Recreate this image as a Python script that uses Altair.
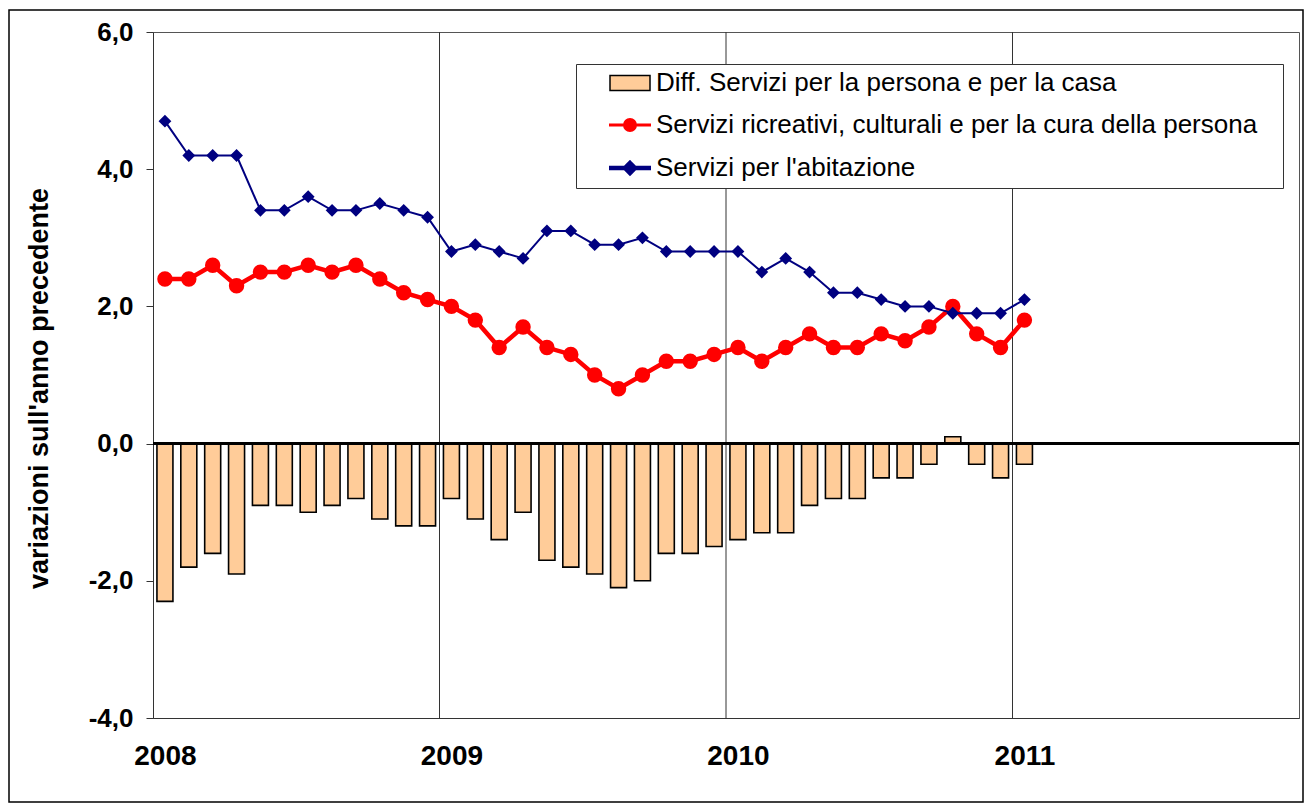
import altair as alt
import numpy as np
import pandas as pd

# Months: Jan 2008 .. Jan 2011 (37 monthly observations)
n_months = 37
year_labels = [2008, 2009, 2010, 2011]
grid_years = [2009, 2010, 2011]

diff_vals = [-2.3, -1.8, -1.6, -1.9, -0.9, -0.9, -1.0, -0.9, -0.8, -1.1, -1.2, -1.2,
             -0.8, -1.1, -1.4, -1.0, -1.7, -1.8, -1.9, -2.1, -2.0, -1.6, -1.6, -1.5,
             -1.4, -1.3, -1.3, -0.9, -0.8, -0.8, -0.5, -0.5, -0.3, 0.1, -0.3, -0.5,
             -0.3]
ricreativi = [2.4, 2.4, 2.6, 2.3, 2.5, 2.5, 2.6, 2.5, 2.6, 2.4, 2.2, 2.1,
              2.0, 1.8, 1.4, 1.7, 1.4, 1.3, 1.0, 0.8, 1.0, 1.2, 1.2, 1.3,
              1.4, 1.2, 1.4, 1.6, 1.4, 1.4, 1.6, 1.5, 1.7, 2.0, 1.6, 1.4,
              1.8]
abitazione = [4.7, 4.2, 4.2, 4.2, 3.4, 3.4, 3.6, 3.4, 3.4, 3.5, 3.4, 3.3,
              2.8, 2.9, 2.8, 2.7, 3.1, 3.1, 2.9, 2.9, 3.0, 2.8, 2.8, 2.8,
              2.8, 2.5, 2.7, 2.5, 2.2, 2.2, 2.1, 2.0, 2.0, 1.9, 1.9, 1.9,
              2.1]

series_names = [
    "Diff. Servizi per la persona e per la casa",
    "Servizi ricreativi, culturali e per la cura della persona",
    "Servizi per l'abitazione",
]

FONT = "Liberation Sans"
RED = "#FF0000"
NAVY = "#000080"
BAR_FILL = "#FFCC99"

df = pd.DataFrame({
    "t": np.arange(n_months) + 0.5,   # month slot centre
    "diff": diff_vals,
    "ric": ricreativi,
    "abit": abitazione,
})
grid_df = pd.DataFrame({"g": [(y - 2008) * 12 for y in grid_years]})
legend_df = pd.DataFrame({"series": series_names})

x_scale = alt.Scale(domain=[0, 48], nice=False, zero=False, padding=0)
y_scale = alt.Scale(domain=[-4, 6], nice=False, zero=False, padding=0)

x_axis = alt.Axis(
    values=[(y - 2008) * 12 + 0.5 for y in year_labels],
    labelExpr="'' + (2008 + floor(datum.value / 12))",
    ticks=False, grid=False, title=None,
    labelFont=FONT, labelFontSize=28, labelFontWeight="bold", labelColor="black",
    labelPadding=24, domainColor="#333", domainWidth=1,
)
y_axis = alt.Axis(
    values=[-4, -2, 0, 2, 4, 6],
    labelExpr="(datum.value < 0 ? '-' : '') + replace(format(abs(datum.value), '.1f'), '.', ',')",
    grid=False, tickSize=7, tickColor="#333", domainColor="#333",
    labelFont=FONT, labelFontSize=26, labelFontWeight="bold", labelColor="black",
    labelPadding=13,
    title="variazioni sull'anno precedente",
    titleFont=FONT, titleFontSize=27, titleFontWeight="bold", titleColor="black",
    titlePadding=35, titleY=356,
)

base = alt.Chart(df)

grid = alt.Chart(grid_df).mark_rule(color="#333", strokeWidth=1).encode(
    x=alt.X("g:Q", scale=x_scale, axis=x_axis),
)

bars = base.mark_bar(width=16, fill=BAR_FILL, stroke="black", strokeWidth=1.6,
                     orient="vertical").encode(
    x=alt.X("t:Q", scale=x_scale, axis=x_axis),
    y=alt.Y("diff:Q", scale=y_scale, axis=y_axis),
    y2=alt.datum(0),
)

zero = base.mark_rule(color="black", strokeWidth=1.5).encode(
    y=alt.datum(0),
)

red_line = base.mark_line(
    color=RED, strokeWidth=4.5,
    point=alt.OverlayMarkDef(filled=True, fill=RED, stroke=RED, size=180, shape="circle"),
).encode(
    x=alt.X("t:Q", scale=x_scale, axis=x_axis),
    y=alt.Y("ric:Q", scale=y_scale, axis=y_axis),
)

blue_line = base.mark_line(
    color=NAVY, strokeWidth=2,
    point=alt.OverlayMarkDef(filled=True, fill=NAVY, stroke=NAVY, size=100, shape="diamond"),
).encode(
    x=alt.X("t:Q", scale=x_scale, axis=x_axis),
    y=alt.Y("abit:Q", scale=y_scale, axis=y_axis),
)

shape_paths = [
    "M-2,-0.75H2V0.75H-2Z",
    "M-2.1,0H2.1M-0.55,0A0.55,0.55,0,1,0,0.55,0A0.55,0.55,0,1,0,-0.55,0Z",
    "M-2.1,0H2.1M0,-0.5L0.5,0L0,0.5L-0.5,0Z",
]
PAD_CHAR = "\u2800"
leg = alt.Legend(title=None, labelExpr="datum.label + '" + PAD_CHAR + "'")
legend_layer = alt.Chart(legend_df).transform_filter("false").mark_point().encode(
    x=alt.value(0), y=alt.value(0),
    shape=alt.Shape("series:N", scale=alt.Scale(domain=series_names, range=shape_paths), legend=leg),
    fill=alt.Fill("series:N", scale=alt.Scale(domain=series_names, range=[BAR_FILL, RED, NAVY]), legend=leg),
    stroke=alt.Stroke("series:N", scale=alt.Scale(domain=series_names, range=["black", RED, NAVY]), legend=leg),
    strokeWidth=alt.StrokeWidth("series:N", scale=alt.Scale(domain=series_names, range=[1.5, 4.5, 2]), legend=leg),
)

frame = alt.Chart(pd.DataFrame({"a": [0]})).mark_rect(
    filled=False, stroke="black", strokeWidth=1.5
).encode(
    x=alt.value(-144), x2=alt.value(1150), y=alt.value(-22), y2=alt.value(770),
)

chart = alt.layer(
    grid, bars, zero, red_line, blue_line, legend_layer, frame
).properties(
    width=1146, height=686,
    padding={"left": 0, "top": 1, "right": 0, "bottom": 0},
    background="white",
).configure_view(
    stroke="#555", strokeWidth=1,
).configure_legend(
    orient="none", legendX=423, legendY=32, direction="vertical",
    padding=6, strokeColor="#333", fillColor="white",
    labelFont=FONT, labelFontSize=26, labelColor="black", labelLimit=0,
    symbolSize=400, symbolOffset=35, labelOffset=13, rowPadding=16,
    symbolOpacity=1,
)

chart.save("out.html", embed_options={"renderer": "svg", "actions": False})
